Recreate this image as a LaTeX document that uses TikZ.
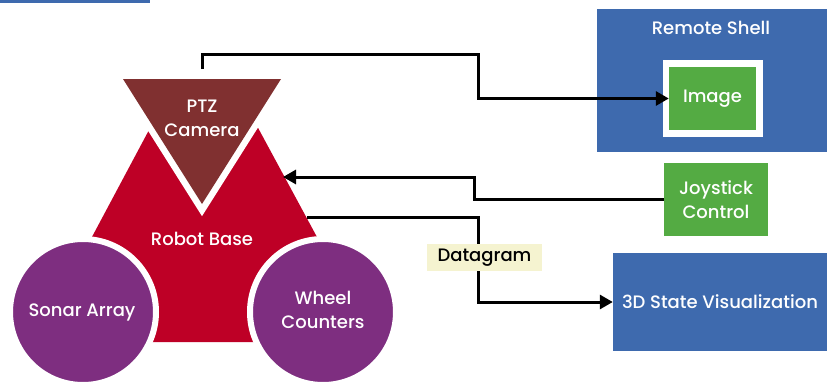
\documentclass[tikz,border=0pt]{standalone}
\usepackage{fontspec}
\setmainfont{Poppins}[UprightFont={* Medium}]
\usepackage{tikz}
\usetikzlibrary{arrows.meta, positioning}

\definecolor{shellblue}{RGB}{62,106,174}
\definecolor{ctrlgreen}{RGB}{84,171,67}
\definecolor{basered}{RGB}{190,0,38}
\definecolor{cambrown}{RGB}{128,48,48}
\definecolor{sensorpurple}{RGB}{126,46,128}
\definecolor{tagyellow}{RGB}{245,243,208}

\begin{document}
\begin{tikzpicture}[
    x=1pt, y=-1pt,
    panel/.style={rectangle, fill=shellblue, inner sep=0pt},
    ctrl/.style={rectangle, fill=ctrlgreen, text=white, align=center, inner sep=0pt, font=\fontsize{18}{24}\selectfont},
    lbl/.style={text=white, align=center, inner sep=0pt, font=\fontsize{18}{24}\selectfont},
    tag/.style={rectangle, fill=tagyellow, inner sep=0pt, font=\fontsize{18}{24}\selectfont},
    arrow/.style={-{Triangle[length=13pt, width=14pt]}, line width=3pt}
]
\useasboundingbox (0,0) rectangle (833,383);
\fill[shellblue] (0,0) rectangle (150,3);

% robot
\fill[basered] (165,100) -- (85,250) -- (85,342) -- (324,342) -- (324,250) -- (243,100) -- cycle;
\draw[white, line width=13pt, line join=miter] (123,79) -- (281,79) -- (202,204) -- cycle;
\fill[cambrown] (123,79) -- (281,79) -- (202,204) -- cycle;
\draw[white, line width=6pt, fill=sensorpurple] (83,312) circle (73pt);
\draw[white, line width=6pt, fill=sensorpurple] (323,312) circle (73pt);

\node[lbl] (cam) at (202,118) {PTZ\\Camera};
\node[lbl] (base) at (202,239) {Robot Base};
\node[lbl] (sonar) at (82,312) {Sonar Array};
\node[lbl] (wheel) at (323,310) {Wheel\\Counters};

% remote side
\node[panel, minimum width=230pt, minimum height=143pt] (shell) at (712,80.5) {};
\node[lbl] (shelltitle) at (711,28) {Remote Shell};
\node[rectangle, fill=white, minimum width=100pt, minimum height=77pt] (imgframe) at (713,98.5) {};
\node[ctrl, minimum width=87pt, minimum height=63pt] (img) at (712.5,98.5) {Image};
\node[ctrl, minimum width=104pt, minimum height=73pt] (joy) at (716,199.5) {Joystick\\Control};
\node[panel, text=white, font=\fontsize{18}{24}\selectfont, minimum width=214pt, minimum height=98pt] (vis) at (720,302) {3D State Visualization};

\coordinate (camtop) at (202,69);
\coordinate (joyin) at (283,177);
\coordinate (dataout) at (307,217);

\draw[arrow] (camtop) -- ++(0,-15) -- ++(276,0) |- (img.west);
\draw[arrow] (joy.west) -- ++(-189,0) |- (joyin);
\draw[arrow] (dataout) -- ++(171,0) |- (vis.west);
\node[tag, minimum width=115pt, minimum height=27pt] (dgram) at (484.5,257.5) {Datagram};
\end{tikzpicture}
\end{document}
